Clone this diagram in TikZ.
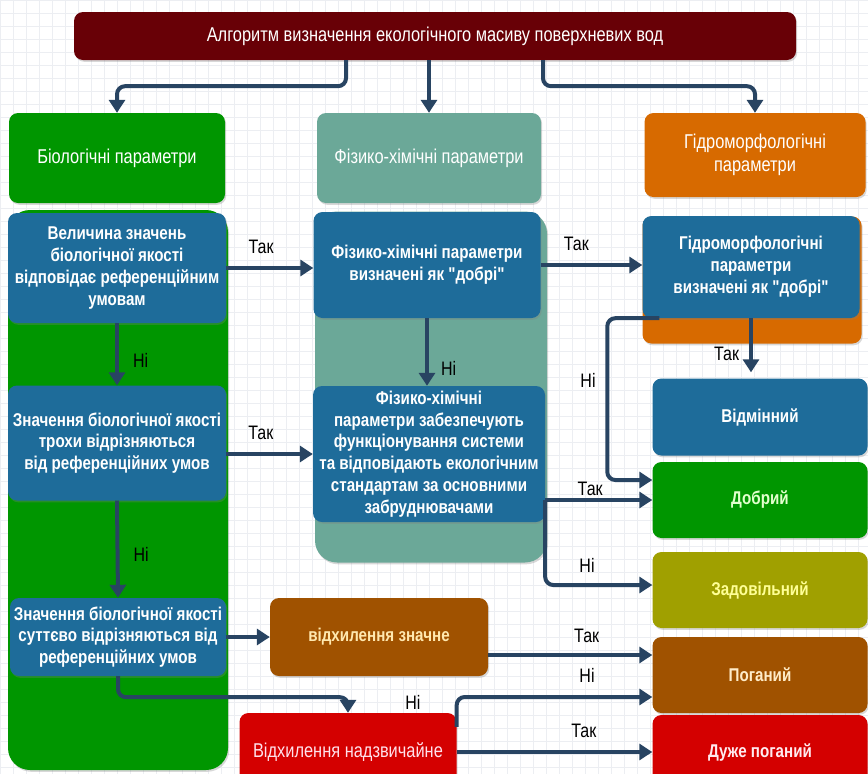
\documentclass[tikz,border=0pt]{standalone}
\usepackage{fontspec}
\setmainfont{Liberation Sans}[FakeStretch=0.82,Ligatures=TeXOff]
\usetikzlibrary{arrows.meta,shadows}
\definecolor{hdrred}{RGB}{104,0,6}
\definecolor{biogreen}{RGB}{0,150,0}
\definecolor{phyteal}{RGB}{107,168,152}
\definecolor{hydorange}{RGB}{215,106,0}
\definecolor{qblue}{RGB}{30,108,154}
\definecolor{qolive}{RGB}{160,160,0}
\definecolor{qbrown}{RGB}{160,82,0}
\definecolor{qred}{RGB}{212,0,0}
\definecolor{linknavy}{RGB}{40,68,98}
\definecolor{gridgray}{RGB}{236,238,242}
\begin{document}
\begin{tikzpicture}[x=1pt,y=-1pt,
  every node/.style={inner sep=2pt,align=center},
  shade/.style={drop shadow={shadow xshift=1.2pt,shadow yshift=-1.8pt,opacity=.3}},
  card/.style={shade,rounded corners=9pt,fill=qblue,text=white,
    font=\fontsize{18.5}{21.8}\selectfont\bfseries},
  panel/.style={shade,rounded corners=22pt},
  hdr/.style={shade,rounded corners=9pt,text=white,font=\fontsize{20}{23}\selectfont},
  link/.style={draw=linknavy,line width=4pt,rounded corners=8pt,-{Triangle[length=13pt,width=16pt]}},
  lbl/.style={font=\fontsize{19.5}{21}\selectfont,inner sep=0pt}]
\clip (0,0) rectangle (868,774);
\fill[white] (0,0) rectangle (868,774);
\draw[gridgray,line width=0.5pt] (0,0) grid[step=13pt] (868,774);
\node[hdr,fill=hdrred,minimum width=722,minimum height=48] (title) at (435,36) {Алгоритм визначення екологічного масиву поверхневих вод};
\node[hdr,fill=biogreen,minimum width=216,minimum height=90] (bio) at (117,158) {Біологічні параметри};
\node[hdr,fill=phyteal,minimum width=224,minimum height=90] (phys) at (429,158) {Фізико-хімічні параметри};
\node[hdr,fill=hydorange,minimum width=221,minimum height=84] (hydro) at (755,155) {Гідроморфологічні\\параметри};
\node[panel,fill=biogreen,minimum width=220,minimum height=560] (biopan) at (118,490) {};
\node[panel,fill=phyteal,minimum width=232,minimum height=351] (physpan) at (431,387) {};
\node[panel,rounded corners=9pt,fill=hydorange,minimum width=219,minimum height=127] (hydpan) at (752,280) {};
\node[card,minimum width=218,minimum height=110] (bref) at (117,268) {Величина значень\\біологічної якості\\відповідає референційним\\умовам};
\node[card,minimum width=218,minimum height=115] (bslight) at (117,443) {Значення біологічної якості\\трохи відрізняються\\від референційних умов};
\node[card,minimum width=216,minimum height=78] (bsig) at (118,637) {Значення біологічної якості\\суттєво відрізняються від\\референційних умов};
\node[card,minimum width=227,minimum height=106] (pgood) at (427,265) {Фізико-хімічні параметри\\визначені як "добрі"};
\node[card,minimum width=232,minimum height=136] (pstd) at (429,454) {Фізико-хімічні\\параметри забезпечують\\функціонування системи\\та відповідають екологічним\\стандартам за основними\\забруднювачами};
\node[card,minimum width=217,minimum height=102] (hgood) at (751,267) {Гідроморфологічні\\параметри\\визначені як "добрі"};
\node[card,minimum width=215,minimum height=77] (excel) at (760,417) {Відмінний};
\node[card,fill=biogreen,text={rgb,255:red,225;green,255;blue,205},minimum width=215,minimum height=76] (good) at (760,500) {Добрий};
\node[card,fill=qolive,text={rgb,255:red,255;green,255;blue,150},minimum width=215,minimum height=76] (fair) at (760,590) {Задовільний};
\node[card,fill=qbrown,text={rgb,255:red,255;green,236;blue,200},minimum width=215,minimum height=76] (poor) at (760,675) {Поганий};
\node[card,fill=qred,text={rgb,255:red,255;green,235;blue,240},minimum width=215,minimum height=76] (vpoor) at (760,753) {Дуже поганий};
\node[card,fill=qbrown,text={rgb,255:red,255;green,232;blue,175},minimum width=218,minimum height=78] (devsig) at (379,637) {відхилення значне};
\node[card,fill=qred,text={rgb,255:red,255;green,225;blue,235},font=\fontsize{20}{23}\selectfont,minimum width=217,minimum height=78] (devext) at (348,752) {Відхилення надзвичайне};
\draw[link] ([xshift=-89pt]title.south) -- ++(0,26) -| (bio.north);
\draw[link] (title.south -| phys.north) -- (phys.north);
\draw[link] ([xshift=108pt]title.south) -- ++(0,26) -| (hydro.north);
\draw[link] (bref.east) -- (pgood.west |- bref.east) node[lbl,pos=.4,above=12pt] {Так};
\draw[link] (bref.south) -- (bslight.north) node[lbl,pos=.6,right=14pt] {Ні};
\draw[link] (bslight.east |- pstd.west) -- (pstd.west) node[lbl,pos=.4,above=12pt] {Так};
\draw[link] (bslight.south) -- (bsig.north) node[lbl,pos=.55,right=14pt] {Ні};
\draw[link] (bsig) -- (devsig);
\draw[link] (bsig.south) -- ++(0,21) -| (devext.north);
\node[lbl] (nhext) at (413,702) {Ні};
\draw[link] (pgood.south) -- (pgood.south |- pstd.north) node[lbl,pos=.75,right=12pt] {Ні};
\draw[link] (pgood.east) -- (hgood.west |- pgood.east) node[lbl,pos=.35,above=12pt] {Так};
\draw[link,shorten >=6pt] (hgood.south) -- (hgood.south |- excel.north) node[lbl,pos=.6,left=10pt] {Так};
\draw[link] ([xshift=17pt]hgood.south west) -- ++(-52,0) |- ([yshift=20pt]good.west);
\node[lbl] (nhgood) at (588,380) {Ні};
\draw[link] (pstd.east |- good.west) -- (good.west) node[lbl,pos=.42,above=2pt] {Так};
\draw[link] (pstd.east |- good.west) |- ([yshift=5pt]fair.west);
\node[lbl] (nhfair) at (587,565) {Ні};
\draw[link] ([yshift=-18pt]devsig.east) -- ([yshift=20pt]poor.west) node[lbl,pos=.6,above=10pt] {Так};
\draw[link] ([yshift=-14pt]devext.north east) |- ([yshift=-22pt]poor.west);
\node[lbl] (nhpoor) at (587,675) {Ні};
\draw[link] (devext.east) -- (vpoor.west |- devext.east) node[lbl,pos=.65,above=12pt] {Так};
\end{tikzpicture}
\end{document}
